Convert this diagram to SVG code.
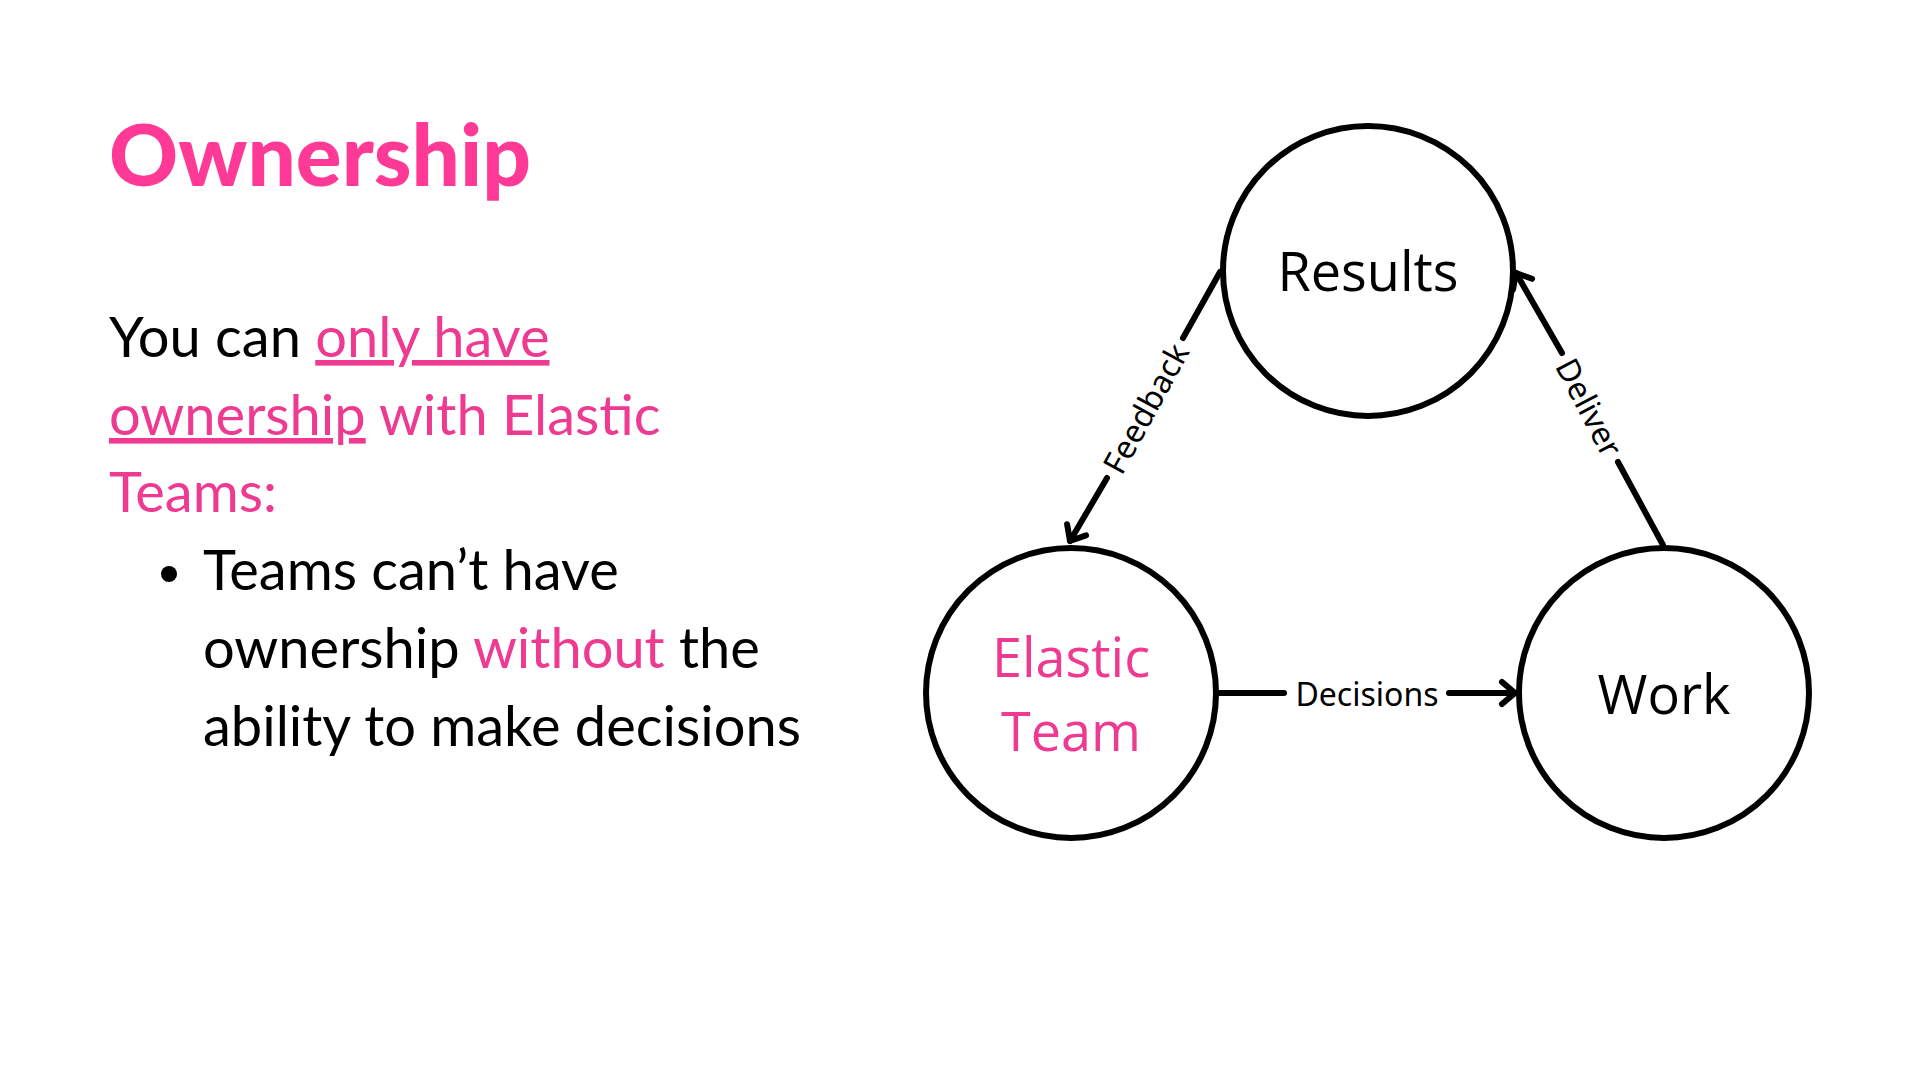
<svg xmlns="http://www.w3.org/2000/svg" width="1920" height="1080" viewBox="0 0 1920 1080">
<style>
.title{font-family:"Lato","Liberation Sans",sans-serif;font-weight:900;font-size:86px;fill:#FF3A96}
.body{font-family:"Lato","Liberation Sans",sans-serif;font-size:56px;fill:#000}
.pk{fill:#EE3A91}
.node{fill:#fff;stroke:#000;stroke-width:6}
.nlabel{font-family:"Open Sans","Noto Sans",sans-serif;font-size:54px;text-anchor:middle;fill:#000}
.edge{fill:none;stroke:#000;stroke-width:6;stroke-linecap:round}
.elabel{font-family:"Noto Sans","Open Sans",sans-serif;font-size:32px;text-anchor:middle;dominant-baseline:central;fill:#000}
</style>
<defs>
<marker id="arr" markerUnits="userSpaceOnUse" markerWidth="40" markerHeight="40" viewBox="-20 -20 40 40" refX="0" refY="0" orient="auto">
<path d="M-13,-11 L0,0 L-13,11" fill="none" stroke="#000" stroke-width="6" stroke-linecap="round" stroke-linejoin="round"/>
</marker>
</defs>
<rect width="1920" height="1080" fill="#fff"/>

<g id="text-panel">
<text class="title" x="109" y="186" textLength="422" lengthAdjust="spacingAndGlyphs">Ownership</text>
<text class="body" x="109" y="357">You can <tspan class="pk" text-decoration="underline">only have</tspan></text>
<text class="body" x="109" y="435"><tspan class="pk" text-decoration="underline">ownership</tspan><tspan class="pk"> with Elastic</tspan></text>
<text class="body pk" x="109" y="512">Teams:</text>
<circle cx="169" cy="574" r="8" fill="#000"/>
<text class="body" x="203" y="590">Teams can’t have</text>
<text class="body" x="203" y="668">ownership <tspan class="pk">without</tspan> the</text>
<text class="body" x="203" y="746">ability to make decisions</text>
</g>

<g id="connectors">
<g id="edge-feedback">
<line class="edge" x1="1220" y1="272" x2="1183" y2="338"/>
<line class="edge" x1="1107" y1="478" x2="1070" y2="541" marker-end="url(#arr)"/>
<text class="elabel" transform="translate(1145 408) rotate(-61.3)">Feedback</text>
</g>
<g id="edge-deliver">
<line class="edge" x1="1663" y1="545" x2="1618" y2="462"/>
<line class="edge" x1="1562" y1="353" x2="1516" y2="273" marker-end="url(#arr)"/>
<text class="elabel" transform="translate(1590 407) rotate(62.4)">Deliver</text>
</g>
<g id="edge-decisions">
<line class="edge" x1="1218" y1="693" x2="1284" y2="693"/>
<line class="edge" x1="1449" y1="693" x2="1515" y2="693" marker-end="url(#arr)"/>
<text class="elabel" x="1367" y="693">Decisions</text>
</g>
</g>

<g id="node-results">
<circle class="node" cx="1368" cy="271" r="145"/>
<text class="nlabel" x="1368" y="291">Results</text>
</g>
<g id="node-elastic-team">
<circle class="node" cx="1071" cy="693" r="145"/>
<text class="nlabel" x="1071" y="677" style="fill:#EE3A91">Elastic</text>
<text class="nlabel" x="1071" y="751" style="fill:#EE3A91">Team</text>
</g>
<g id="node-work">
<circle class="node" cx="1664" cy="693" r="145"/>
<text class="nlabel" x="1664" y="714">Work</text>
</g>
</svg>
